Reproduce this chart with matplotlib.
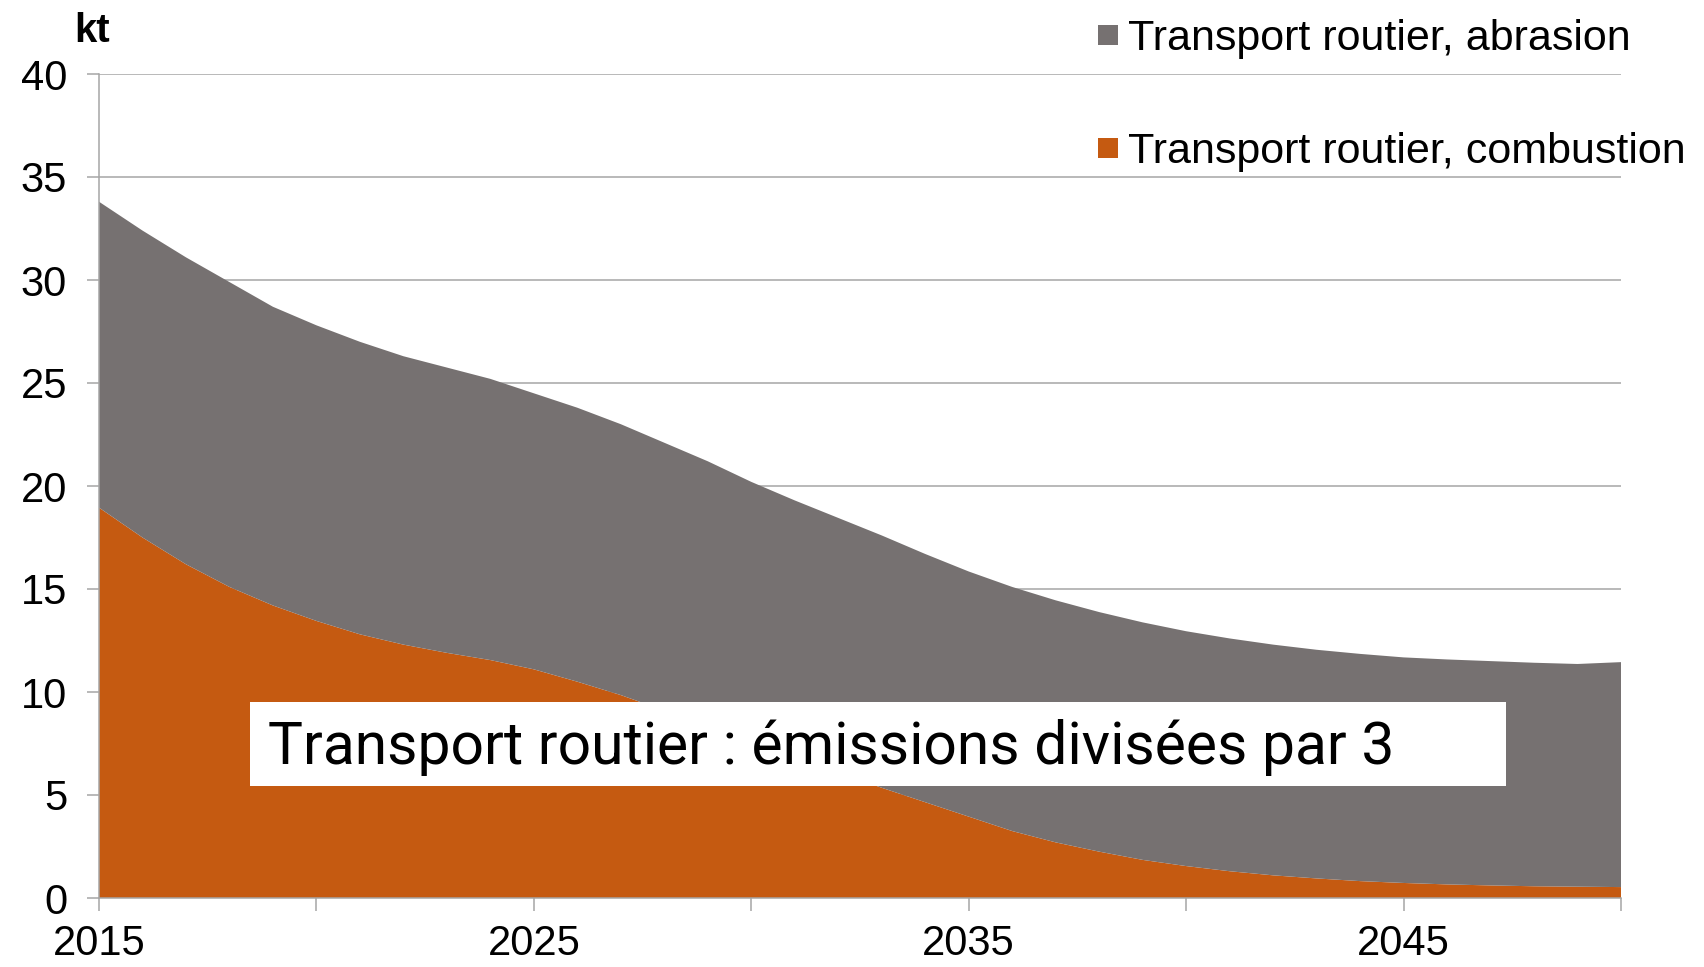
import matplotlib
matplotlib.use("Agg")
import matplotlib.pyplot as plt
from matplotlib.patches import Rectangle

plt.rcParams["font.family"] = ["Liberation Sans", "DejaVu Sans"]

# Road transport particulate emissions (kt), 2015-2050
years = list(range(2015, 2051))
combustion = [18.95, 17.5, 16.2, 15.1, 14.2, 13.45, 12.8, 12.3, 11.9, 11.55,
              11.1, 10.5, 9.85, 9.1, 8.4, 7.6, 6.9, 6.1, 5.35, 4.65,
              3.95, 3.25, 2.7, 2.25, 1.85, 1.55, 1.3, 1.1, 0.95, 0.82,
              0.73, 0.66, 0.61, 0.57, 0.55, 0.53]
abrasion = [14.85, 14.9, 14.9, 14.8, 14.5, 14.35, 14.2, 14.0, 13.85, 13.65,
            13.4, 13.3, 13.15, 13.0, 12.8, 12.6, 12.4, 12.35, 12.25, 12.05,
            11.9, 11.85, 11.75, 11.63, 11.53, 11.4, 11.3, 11.2, 11.1, 11.03,
            10.95, 10.92, 10.89, 10.85, 10.81, 10.92]

series_labels = ["Transport routier, combustion", "Transport routier, abrasion"]
series_colors = ["#C55A11", "#767171"]
y_ticks = [0, 5, 10, 15, 20, 25, 30, 35, 40]
x_ticks = [2015, 2020, 2025, 2030, 2035, 2040, 2045, 2050]
x_tick_labels = ["2015", "", "2025", "", "2035", "", "2045", ""]
unit_label = "kt"
note = "Transport routier : émissions divisées par 3"

W, H = 1704, 967
fig = plt.figure(figsize=(W / 100, H / 100), dpi=100)
ax = fig.add_axes([99 / W, 1 - 898 / H, (1621 - 99) / W, (898 - 74) / H])

ax.stackplot(years, combustion, abrasion, colors=series_colors,
             linewidth=0, zorder=2)

ax.set_xlim(2015, 2050)
ax.set_ylim(0, 40)
ax.set_yticks(y_ticks)
ax.set_xticks(x_ticks)
ax.set_xticklabels(x_tick_labels)

grid_col = "#A6A6A6"
ax.yaxis.grid(True, color=grid_col, linewidth=1.1, zorder=1)
ax.set_axisbelow(True)
for side in ("top", "right"):
    ax.spines[side].set_visible(False)
for side in ("left", "bottom"):
    ax.spines[side].set_color(grid_col)
    ax.spines[side].set_linewidth(1.1)
    ax.spines[side].set_zorder(3)

ax.tick_params(axis="y", direction="out", length=9, width=1.1, color=grid_col,
               pad=14, labelsize=30)
ax.tick_params(axis="x", direction="out", length=9, width=1.1, color=grid_col,
               pad=10, labelsize=30)

# unit label above the y axis
fig.text(74 / W, 1 - 42 / H, unit_label, fontsize=29, fontweight="bold",
         ha="left", va="baseline")

# legend: abrasion first, combustion below
legend_rows = [(series_labels[1], series_colors[1], 35),
               (series_labels[0], series_colors[0], 148)]
for label, color, yc in legend_rows:
    fig.patches.append(Rectangle((1098 / W, 1 - (yc + 10) / H), 20 / W, 20 / H,
                                 transform=fig.transFigure, facecolor=color,
                                 edgecolor="none", figure=fig))
    fig.text(1128 / W, 1 - (yc + 15) / H, label, fontsize=31,
             ha="left", va="baseline")

# highlighted message box
box = Rectangle((250 / W, 1 - 786 / H), (1506 - 250) / W, (786 - 702) / H,
                transform=fig.transFigure, facecolor="white", edgecolor="none",
                zorder=10, clip_on=False)
ax.add_patch(box)
ax.text(268 / W, 1 - 764 / H, note, transform=fig.transFigure,
        family=["Roboto", "DejaVu Sans"], fontsize=42.3, ha="left",
        va="baseline", zorder=11, clip_on=False)

fig.savefig("out.png", dpi=100)
